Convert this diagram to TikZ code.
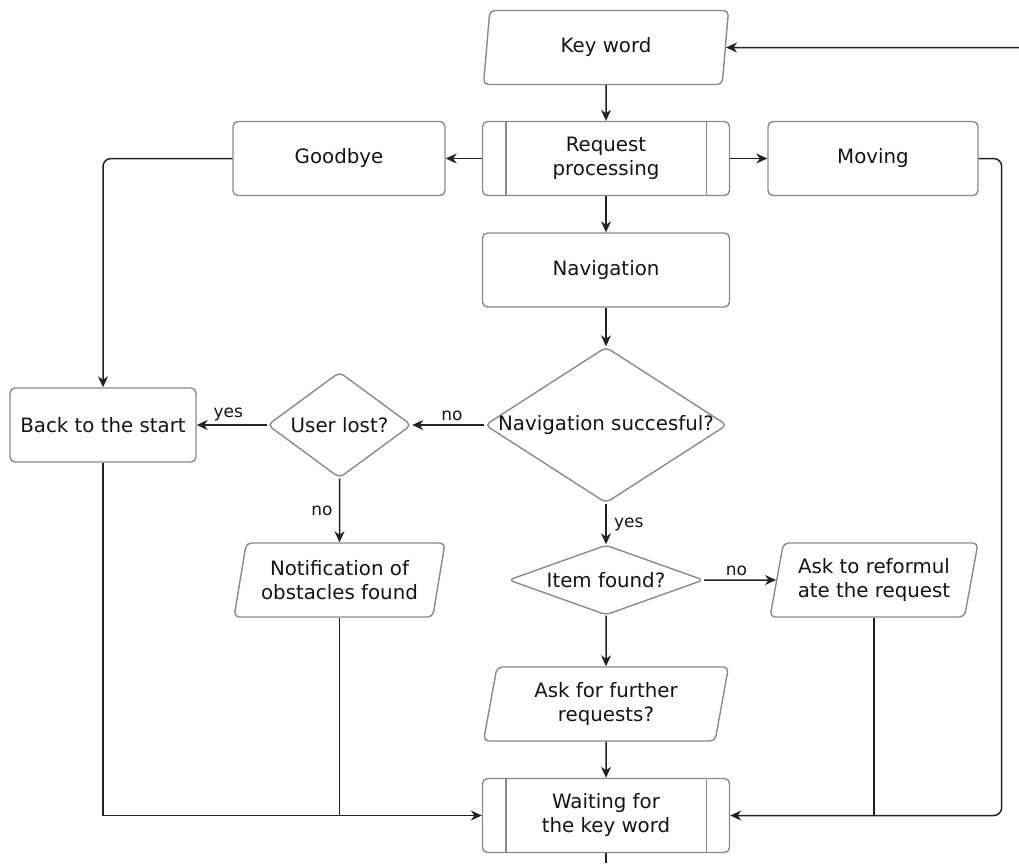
\documentclass[tikz,border=0pt]{standalone}
\usepackage{fontspec}
\setmainfont{DejaVu Sans}
\usetikzlibrary{shapes.geometric,arrows.meta,calc}
\definecolor{bord}{HTML}{8A8A8A}
\definecolor{conn}{HTML}{222222}
\begin{document}
\begin{tikzpicture}[x=1pt,y=-1pt,
  every node/.style={font=\fontsize{19.8}{24}\selectfont, text=black!92, align=center},
  box/.style={draw=bord, line width=1.4pt, rounded corners=5pt, rectangle, minimum width=#1, minimum height=74, inner sep=0pt},
  subproc/.style={box=247},
  io/.style={draw=bord, line width=1.4pt, rounded corners=5pt, trapezium, trapezium left angle=73.4, trapezium right angle=106.6, trapezium stretches body, minimum width=#1, minimum height=74, inner sep=1pt},
  dec/.style={draw=bord, line width=1.4pt, rounded corners=5pt, diamond, inner sep=0pt},
  lab/.style={font=\fontsize{17}{19}\selectfont, text=black!92},
  line/.style={draw=conn, line width=1.5pt},
  arr/.style={line, -{Stealth[length=11pt,width=10pt,inset=3.5pt]}}
]
\useasboundingbox (0,0) rectangle (1019,863);

% nodes
\node[io=245] (kw) at (606,47.5) {Key word};
\node[subproc] (rp) at (606,158.5) {Request\\processing};
\draw[draw=bord, line width=1.4pt] ([xshift=24]rp.north west) -- ([xshift=24]rp.south west)
  ([xshift=-24]rp.north east) -- ([xshift=-24]rp.south east);
\node[box=212] (gb) at (339,158.5) {Goodbye};
\node[box=210] (mv) at (873,158.5) {Moving};
\node[box=247] (nv) at (606,270) {Navigation};
\node[dec, minimum width=242, minimum height=156] (ns) at (606,425) {};
\node at (ns) {Navigation succesful?};
\node[dec, minimum width=144, minimum height=106] (ul) at (339.5,425) {};
\node at (ul) {User lost?};
\node[box=186] (bs) at (103,425) {Back to the start};
\node[io=211] (nt) at (339.5,580) {Notification of\\obstacles found};
\node[dec, minimum width=195, minimum height=70] (if) at (606,580) {};
\node at (if) {Item found?};
\node[io=208] (ar) at (874,580) {Ask to reformul\\ate the request};
\node[io=245] (af) at (606,704) {Ask for further\\requests?};
\node[subproc] (wk) at (606,815.5) {Waiting for\\the key word};
\draw[draw=bord, line width=1.4pt] ([xshift=24]wk.north west) -- ([xshift=24]wk.south west)
  ([xshift=-24]wk.north east) -- ([xshift=-24]wk.south east);

\coordinate (inR) at (1019,47.5);
\coordinate (outB) at (606,863);

% connectors
\draw[arr] (inR) -- (kw.east);
\draw[arr] (kw.south) -- (rp.north);
\draw[arr] (rp.west) -- (gb.east);
\draw[arr] (rp.east) -- (mv.west);
\draw[arr] (rp.south) -- (nv.north);
\draw[arr] (nv.south) -- (ns.north);
\draw[arr, rounded corners=8pt] (gb.west) -| (bs.north);
\draw[arr, rounded corners=8pt] (mv.east) -- ++(23,0) |- (wk.east);
\draw[arr] (ns.west) -- node[lab, above, pos=0.45] {no} (ul.east);
\draw[arr] (ul.west) -- node[lab, above, pos=0.55] {yes} (bs.east);
\draw[arr] (ul.south) -- node[lab, left, xshift=-3pt] {no} (nt.north);
\draw[arr] (ns.south) -- node[lab, right, xshift=4pt] {yes} (if.north);
\draw[arr] (if.east) -- node[lab, above, pos=0.45] {no} (ar.west);
\draw[arr] (if.south) -- (af.north);
\draw[arr] (af.south) -- (wk.north);
\draw[arr] (bs.south) |- (wk.west);
\draw[line] (nt.south) -- (nt.south |- wk.west);
\draw[line] (ar.south) -- (ar.south |- wk.east);
\draw[line] (wk.south) -- (outB);
\end{tikzpicture}
\end{document}
